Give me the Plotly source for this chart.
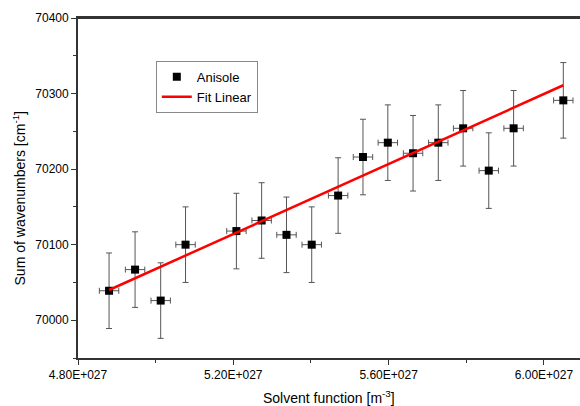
import plotly.graph_objects as go

# Data (x in m^-3, y in cm^-1)
solvent_fn = [4.880e27, 4.947e27, 5.013e27, 5.077e27, 5.208e27, 5.273e27, 5.337e27,
              5.402e27, 5.470e27, 5.534e27, 5.598e27, 5.663e27, 5.728e27, 5.792e27,
              5.858e27, 5.922e27, 6.050e27]
wavenumber_sum = [70039, 70067, 70026, 70100, 70118, 70132, 70113,
                  70100, 70165, 70216, 70235, 70221, 70235, 70254,
                  70198, 70254, 70291]
y_err = [50] * 17
x_err = [0.025e27] * 17

fit_x = [4.880e27, 6.050e27]
fit_y = [70040, 70311]

x_tickvals = [4.8e27, 5.2e27, 5.6e27, 6.0e27]
x_ticktext = ["4.80E+027", "5.20E+027", "5.60E+027", "6.00E+027"]
x_minor = [5.0e27, 5.4e27, 5.8e27]
y_tickvals = [70000, 70100, 70200, 70300, 70400]
y_ticktext = ["70000", "70100", "70200", "70300", "70400"]
y_minor = [69950, 70050, 70150, 70250, 70350]

FONT = "Liberation Sans, Arial, sans-serif"
AXC = "#333333"

fig = go.Figure()
fig.add_trace(go.Scatter(
    x=solvent_fn, y=wavenumber_sum, mode="markers", name="Anisole",
    marker=dict(symbol="square", size=8, color="black"),
    error_y=dict(type="data", array=y_err, visible=True, color="#555555", thickness=1, width=3),
    error_x=dict(type="data", array=x_err, visible=True, color="#555555", thickness=1, width=3),
))
fig.add_trace(go.Scatter(
    x=fit_x, y=fit_y, mode="lines", name="Fit Linear",
    line=dict(color="#ff0000", width=2.5),
))

fig.update_layout(
    width=580, height=406,
    margin=dict(l=78, r=0, t=18, b=48, autoexpand=False),
    paper_bgcolor="white", plot_bgcolor="white",
    font=dict(family=FONT, size=12, color="black"),
    showlegend=True,
    legend=dict(x=0.155, y=0.874, xanchor="left", yanchor="top",
                bgcolor="white", bordercolor="#888888", borderwidth=1,
                font=dict(size=13), tracegroupgap=0, itemwidth=30),
    shapes=[dict(type="line", xref="paper", yref="paper", x0=0, x1=1, y0=1.0, y1=1.0,
                 layer="above", line=dict(color=AXC, width=2))],
    annotations=[
        dict(text="Solvent function [m<sup>-3</sup>]", xref="paper", yref="paper",
             x=0.5, y=-0.115, xanchor="center", yanchor="middle", showarrow=False,
             font=dict(size=14)),
        dict(text="Sum of wavenumbers [cm<sup>-1</sup>]", xref="paper", yref="paper",
             x=-0.117, y=0.47, xanchor="center", yanchor="middle", showarrow=False,
             textangle=-90, font=dict(size=14)),
    ],
)
fig.update_xaxes(
    range=[4.8e27, 6.093e27], showgrid=False, zeroline=False, automargin=False,
    showline=True, linecolor=AXC, linewidth=1.8, mirror=True,
    tickmode="array", tickvals=x_tickvals, ticktext=x_ticktext,
    ticks="outside", ticklen=5, tickcolor=AXC, tickwidth=1,
    minor=dict(tickmode="array", tickvals=x_minor, ticks="outside", ticklen=3, tickcolor=AXC),
    tickfont=dict(size=12),
)
fig.update_yaxes(
    range=[69950, 70400], showgrid=False, zeroline=False, automargin=False,
    showline=True, linecolor=AXC, linewidth=1.8,
    tickmode="array", tickvals=y_tickvals, ticktext=y_ticktext,
    ticks="outside", ticklen=5, tickcolor=AXC, tickwidth=1,
    minor=dict(tickmode="array", tickvals=y_minor, ticks="outside", ticklen=3, tickcolor=AXC),
    tickfont=dict(size=12),
)

fig.write_html("out.html", config={"displayModeBar": False},
               post_script="document.body.style.margin='0';document.body.style.overflow='hidden';")
